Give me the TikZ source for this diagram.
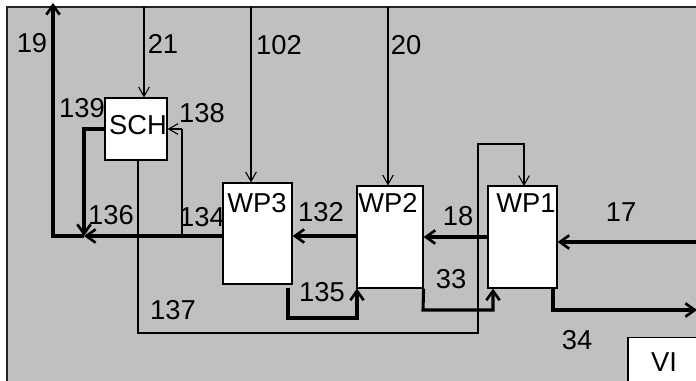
\documentclass[tikz,border=0pt]{standalone}
\usepackage{fontspec}
\setmainfont{Liberation Sans}
\usetikzlibrary{arrows.meta}
\tikzset{
  px/.style={x=0.75pt,y=-0.75pt},
  box/.style={draw=black,fill=white,line width=0.9pt,inner sep=0pt},
  lbl/.style={inner sep=0pt,font=\fontsize{20.5}{22}\selectfont},
  thk/.style={line width=2.3pt,-{Straight Barb[length=7pt,width=10pt,line width=2pt]}},
  thkn/.style={line width=2.3pt},
  thn/.style={line width=0.8pt,-{Straight Barb[length=7pt,width=8pt]}},
  thnn/.style={line width=0.8pt},
  med/.style={line width=1.6pt},
}
\begin{document}
\begin{tikzpicture}[px]
\useasboundingbox (0,0) rectangle (696,381);
\clip (0,0) rectangle (696,381);
\fill[white] (0,0) rectangle (696,381);
\fill[fill={rgb,255:red,192;green,192;blue,192}] (7,7) rectangle (700,390);
\draw[line width=1.6pt,color={rgb,255:red,35;green,35;blue,35}] (7,390) -- (7,7) -- (700,7);

% boxes
\node[box,minimum width=46.5pt,minimum height=46.5pt] (SCH) at (136,129) {};
\node[box,minimum width=51.75pt,minimum height=75.75pt] (WP3) at (257.5,233.5) {};
\node[box,minimum width=49.5pt,minimum height=76.5pt] (WP2) at (390,237) {};
\node[box,minimum width=51.75pt,minimum height=76.5pt] (WP1) at (522.5,237) {};
\node[box,minimum width=54pt,minimum height=40pt] (VI) at (664,364) {};

% box texts
\node[lbl] (tSCH) at (138,125) {SCH};
\node[lbl] (tWP3) at (257,203) {WP3};
\node[lbl] (tWP2) at (388,203) {WP2};
\node[lbl] (tWP1) at (526,203) {WP1};
\node[lbl] (tVI) at (664,362) {VI};

% stream labels
\node[lbl] (l19) at (32,43) {19};
\node[lbl] (l21) at (163,44) {21};
\node[lbl] (l102) at (279,45) {102};
\node[lbl] (l20) at (406,45) {20};
\node[lbl] (l139) at (82,108) {139};
\node[lbl] (l138) at (202,113) {138};
\node[lbl] (l136) at (111,215) {136};
\node[lbl] (l134) at (202,217) {134};
\node[lbl] (l132) at (321,212) {132};
\node[lbl] (l18) at (458,216) {18};
\node[lbl] (l17) at (621,212) {17};
\node[lbl] (l135) at (322,292) {135};
\node[lbl] (l33) at (451,279) {33};
\node[lbl] (l137) at (173,310) {137};
\node[lbl] (l34) at (577,340) {34};

% coordinates
\coordinate (j136) at (84,236);
\coordinate (jL) at (53,236);
\coordinate (top19) at (53,3);
\coordinate (j134) at (182,236);
\coordinate (in21) at (144,7);
\coordinate (in102) at (251,7);
\coordinate (in20) at (388,7);
\coordinate (in17) at (700,242);
\coordinate (out34) at (697,310);

% main line to the left
\draw[thk] (WP3.west |- j136) -- (j136);
\draw[thk] (j136) -- (jL) -- (top19);
% 139
\draw[thk] (SCH.west) -| (j136);
% 138
\draw[med] (j134) -- (j134 |- SCH.east);
\draw[thn] (j134 |- SCH.east) -- (SCH.east);
% feeds from top
\draw[thn] (in21) -- (in21 |- SCH.north);
\draw[thn] (in102) -- (in102 |- WP3.north);
\draw[thn] (in20) -- (in20 |- WP2.north);
% 137
\draw[thn] (SCH.south -| 138,0) -- (138,333) -- (478,333) -- (478,144) -- (524,144) -- (524,186);
% 132, 18, 17
\draw[thk] (WP2.west |- 0,236) -- (WP3.east |- 0,236);
\draw[thk] (WP1.west |- 0,237) -- (WP2.east |- 0,237);
\draw[thk] (in17) -- (WP1.east |- in17);
% 135
\draw[thk] (288,288) -- (288,318) -- (357,318) -- (WP2.south -| 357,0);
% 33
\draw[thk] (WP2.south east) -- (423,310) -- (493,310) -- (WP1.south -| 493,0);
% 34
\draw[thk] (WP1.south -| 553,0) -- (553,310) -- (out34);
\end{tikzpicture}
\end{document}
